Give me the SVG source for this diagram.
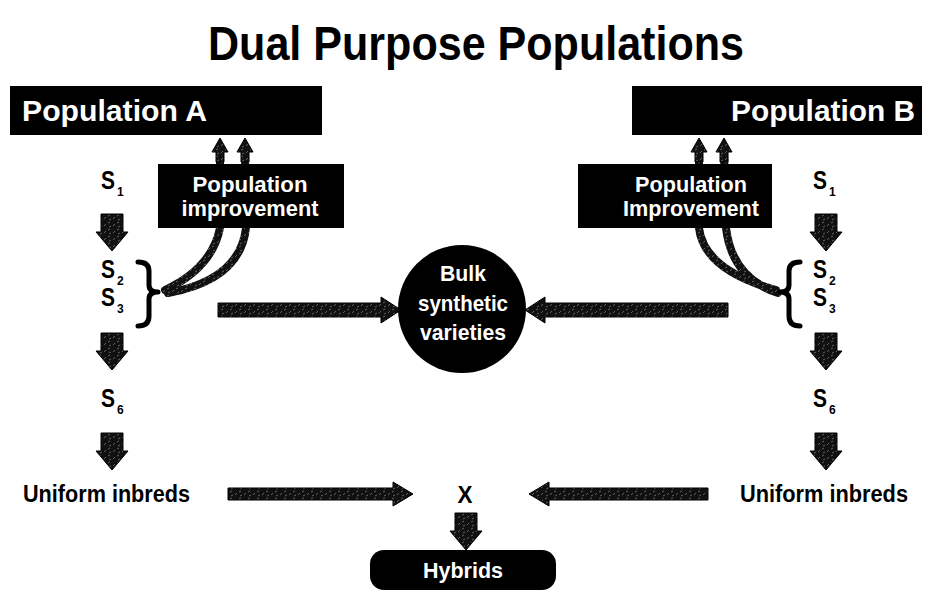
<svg xmlns="http://www.w3.org/2000/svg" width="930" height="610" viewBox="0 0 930 610">
  <defs>
    <style>
      text { font-family: "Liberation Sans Narrow", "Liberation Sans", Arial, sans-serif; font-weight: bold; }
      .title { font-size: 49px; fill: #000; }
      .head { font-size: 30px; fill: #fff; }
      .box { fill: #000; }
      .wlabel { font-size: 22px; fill: #fff; }
      .blabel { font-size: 23px; fill: #000; }
      .s { font-size: 25px; fill: #000; }
      .sub { font-size: 12px; }
      .arrow { fill: url(#grain); stroke: #000; stroke-width: 1; }
      .curve { fill: none; stroke: url(#grain); stroke-width: 8; stroke-linecap: round; }
      .brace { fill: none; stroke: #000; stroke-width: 5; stroke-linecap: round; stroke-linejoin: round; }
    </style>
    <!-- speckled dark fill used for all arrows -->
    <pattern id="grain" patternUnits="userSpaceOnUse" width="9" height="7">
      <rect width="9" height="7" fill="#111"/>
      <path d="M1,5 L3,3 M5,2 L7,1 M6,6 L8,5" stroke="#777" stroke-width="0.8"/>
    </pattern>
    <path id="down" class="arrow" d="M-11,0 H11 V18 H16 L0,37 L-16,18 H-11 Z"/>
    <path id="up" class="arrow" d="M-4,0 V-10 H-8 L0,-24 L8,-10 H4 V0 Z"/>
  </defs>

  <text class="title" x="476" y="60" text-anchor="middle" textLength="536" lengthAdjust="spacingAndGlyphs">Dual Purpose Populations</text>

  <!-- connectors -->
  <g id="connectors">
    <!-- recurrent selection feeding back to the source populations -->
    <path class="curve" d="M165,290 Q212,268 220,228 L220,150"/>
    <path class="curve" d="M168,293 Q240,280 246,228 L245,150"/>
    <use href="#up" x="220" y="162"/>
    <use href="#up" x="245" y="162"/>
    <path class="curve" d="M776,290 Q704,270 699,228 L699,150"/>
    <path class="curve" d="M778,293 Q732,278 726,228 L724,150"/>
    <use href="#up" x="699" y="162"/>
    <use href="#up" x="724" y="162"/>

    <!-- selfing generations -->
    <use href="#down" x="112" y="214"/>
    <use href="#down" x="112" y="333"/>
    <use href="#down" x="112" y="433"/>
    <use href="#down" x="826" y="214"/>
    <use href="#down" x="826" y="333"/>
    <use href="#down" x="826" y="433"/>
    <use href="#down" x="466" y="513"/>

    <!-- into the synthetic and the cross -->
    <path class="arrow" d="M218,303 H381 V297 L401,310 L381,323 V317 H218 Z"/>
    <path class="arrow" d="M728,303 H545 V297 L525,310 L545,323 V317 H728 Z"/>
    <path class="arrow" d="M228,488 H393 V482 L413,494 L393,506 V500 H228 Z"/>
    <path class="arrow" d="M708,488 H549 V482 L529,494 L549,506 V500 H708 Z"/>

    <!-- braces grouping S2 and S3 -->
    <path class="brace" d="M138,262 Q149,262 149,271 V285 Q149,292 158,292 Q149,292 149,299 V316 Q149,326 138,326"/>
    <path class="brace" d="M800,262 Q789,262 789,271 V285 Q789,292 780,292 Q789,292 789,299 V316 Q789,326 800,326"/>
  </g>

  <g id="population-a">
    <rect class="box" x="10" y="86" width="312" height="49"/>
    <text class="head" x="22" y="121" textLength="185" lengthAdjust="spacingAndGlyphs">Population A</text>
  </g>

  <g id="population-b">
    <rect class="box" x="632" y="86" width="290" height="49"/>
    <text class="head" x="915" y="121" text-anchor="end" textLength="184" lengthAdjust="spacingAndGlyphs">Population B</text>
  </g>

  <g id="improvement-a">
    <rect class="box" x="158" y="164" width="186" height="64"/>
    <text class="wlabel" x="250" y="192" text-anchor="middle" textLength="115" lengthAdjust="spacingAndGlyphs">Population</text>
    <text class="wlabel" x="250" y="216" text-anchor="middle" textLength="137" lengthAdjust="spacingAndGlyphs">improvement</text>
  </g>

  <g id="improvement-b">
    <rect class="box" x="578" y="164" width="194" height="64"/>
    <text class="wlabel" x="691" y="192" text-anchor="middle" textLength="112" lengthAdjust="spacingAndGlyphs">Population</text>
    <text class="wlabel" x="691" y="216" text-anchor="middle" textLength="136" lengthAdjust="spacingAndGlyphs">Improvement</text>
  </g>

  <g id="selfing-a">
    <text class="s" x="101" y="189" textLength="14" lengthAdjust="spacingAndGlyphs">S</text><text class="s sub" x="117" y="196">1</text>
    <text class="s" x="101" y="278" textLength="14" lengthAdjust="spacingAndGlyphs">S</text><text class="s sub" x="117" y="285">2</text>
    <text class="s" x="101" y="306" textLength="14" lengthAdjust="spacingAndGlyphs">S</text><text class="s sub" x="117" y="313">3</text>
    <text class="s" x="101" y="407" textLength="14" lengthAdjust="spacingAndGlyphs">S</text><text class="s sub" x="117" y="414">6</text>
  </g>

  <g id="selfing-b">
    <text class="s" x="813" y="189" textLength="14" lengthAdjust="spacingAndGlyphs">S</text><text class="s sub" x="829" y="196">1</text>
    <text class="s" x="813" y="278" textLength="14" lengthAdjust="spacingAndGlyphs">S</text><text class="s sub" x="829" y="285">2</text>
    <text class="s" x="813" y="306" textLength="14" lengthAdjust="spacingAndGlyphs">S</text><text class="s sub" x="829" y="313">3</text>
    <text class="s" x="813" y="407" textLength="14" lengthAdjust="spacingAndGlyphs">S</text><text class="s sub" x="829" y="414">6</text>
  </g>

  <g id="bulk-synthetic">
    <circle cx="462" cy="309" r="64" fill="#000"/>
    <text class="wlabel" x="463" y="281" text-anchor="middle" font-size="24" textLength="46" lengthAdjust="spacingAndGlyphs">Bulk</text>
    <text class="wlabel" x="463" y="311" text-anchor="middle" font-size="24" textLength="90" lengthAdjust="spacingAndGlyphs">synthetic</text>
    <text class="wlabel" x="463" y="340" text-anchor="middle" font-size="24" textLength="86" lengthAdjust="spacingAndGlyphs">varieties</text>
  </g>

  <g id="inbreds-a">
    <text class="blabel" x="23" y="502" textLength="167" lengthAdjust="spacingAndGlyphs">Uniform inbreds</text>
  </g>

  <g id="inbreds-b">
    <text class="blabel" x="740" y="502" textLength="168" lengthAdjust="spacingAndGlyphs">Uniform inbreds</text>
  </g>

  <g id="cross">
    <text class="blabel" x="465" y="503" text-anchor="middle" font-size="26" textLength="15" lengthAdjust="spacingAndGlyphs">X</text>
  </g>

  <g id="hybrids">
    <rect class="box" x="370" y="550" width="186" height="40" rx="14"/>
    <text class="wlabel" x="463" y="578" text-anchor="middle" font-size="24" textLength="80" lengthAdjust="spacingAndGlyphs">Hybrids</text>
  </g>
</svg>
